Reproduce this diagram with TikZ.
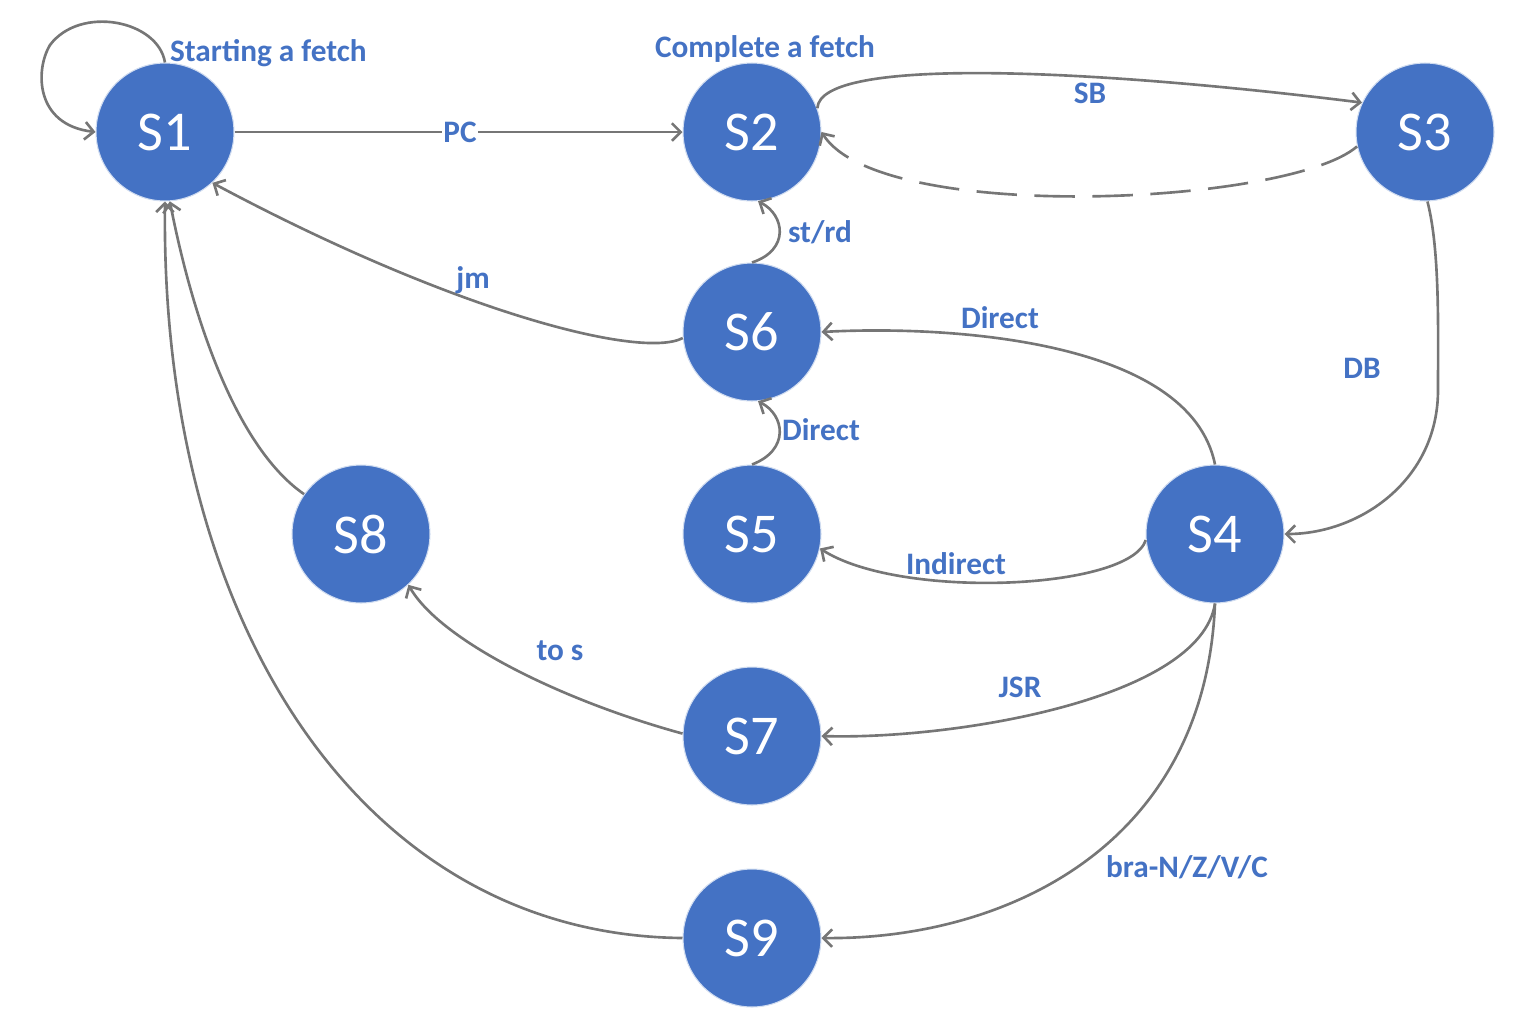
\documentclass[tikz,border=0pt]{standalone}
\usepackage{fontspec}
\setmainfont{Carlito}
\usetikzlibrary{arrows.meta}
\definecolor{stblue}{HTML}{4472C4}
\definecolor{edgegray}{HTML}{767676}
\begin{document}
\begin{tikzpicture}[x=0.02cm,y=-0.02cm,
  state/.style={circle,fill=stblue,draw=white!75!stblue,line width=0.6pt,minimum size=2.76cm,inner sep=0pt,
     text=white,font=\fontsize{32}{36}\selectfont},
  lbl/.style={text=stblue,font=\bfseries\fontsize{17.8}{20}\selectfont,inner sep=1pt},
  edge/.style={draw=edgegray,line width=1.5pt,-{Straight Barb[length=5pt,width=10pt]}},
]
\useasboundingbox (0,0) rectangle (1521,1032);

\node[state] (S1) at (165,132) {S1};
\node[state] (S2) at (752,132) {S2};
\node[state] (S3) at (1425,132) {S3};
\node[state] (S6) at (752,332) {S6};
\node[state] (S5) at (752,534) {S5};
\node[state] (S8) at (361,534) {S8};
\node[state] (S4) at (1215,534) {S4};
\node[state] (S7) at (752,736) {S7};
\node[state] (S9) at (752,938) {S9};

% self loop
\draw[edge] (S1.north) .. controls (158,20) and (80,5) .. (50,45)
  .. controls (35,70) and (35,125) .. (S1.west);
% S1 -> S2
\draw[edge] (S1.east) -- (S2.west);
% S2 -> S3
\draw[edge] (S2.20) .. controls (820,55) and (1100,70) .. (S3.155);
% S3 -> S2 dashed
\draw[edge,dash pattern=on 23pt off 10pt] (S3.192) .. controls (1290,205) and (880,225) .. (S2.east);
% S3 -> S4
\draw[edge] (S3.-88) .. controls (1440,250) and (1438,330) .. (1438,390)
  .. controls (1438,480) and (1360,534) .. (S4.east);
% S6 -> S2
\draw[edge] (S6.north) .. controls (790,250) and (785,215) .. (S2.-85);
% S6 -> S1
\draw[edge] (S6.185) .. controls (640,360) and (450,310) .. (S1.-47);
% S8 -> S1
\draw[edge] (S8.145) .. controls (240,450) and (195,330) .. (S1.-86);
% S9 -> S1
\draw[edge] (S9.west) .. controls (360,935) and (160,620) .. (S1.-90);
% S5 -> S6
\draw[edge] (S5.north) .. controls (790,450) and (785,415) .. (S6.-85);
% S4 -> S6
\draw[edge] (S4.north) .. controls (1190,340) and (950,325) .. (S6.east);
% S4 -> S5
\draw[edge] (S4.185) .. controls (1130,590) and (900,600) .. (S5.-12);
% S4 -> S7
\draw[edge] (S4.south) .. controls (1200,700) and (950,740) .. (S7.east);
% S4 -> S9
\draw[edge] (S4.south) .. controls (1205,850) and (1000,940) .. (S9.east);
% S7 -> S8
\draw[edge] (S7.178) .. controls (560,700) and (440,640) .. (S8.-47);

% labels
\node[lbl,anchor=west] (l1) at (168,53) {Starting a fetch};
\node[lbl] (l2) at (765,49) {Complete a fetch};
\node[lbl,fill=white] (lpc) at (460,132) {PC};
\node[lbl] (lsb) at (1090,93) {SB};
\node[lbl] (ldb) at (1362,368) {DB};
\node[lbl] (lst) at (820,232) {st/rd};
\node[lbl] (ljm) at (473,280) {jm};
\node[lbl] (ld1) at (1000,318) {Direct};
\node[lbl] (ld2) at (821,430) {Direct};
\node[lbl] (lin) at (956,564) {Indirect};
\node[lbl] (lto) at (560,651) {to s};
\node[lbl] (ljsr) at (1020,687) {JSR};
\node[lbl] (lbra) at (1187,867) {bra-N/Z/V/C};
\end{tikzpicture}
\end{document}
